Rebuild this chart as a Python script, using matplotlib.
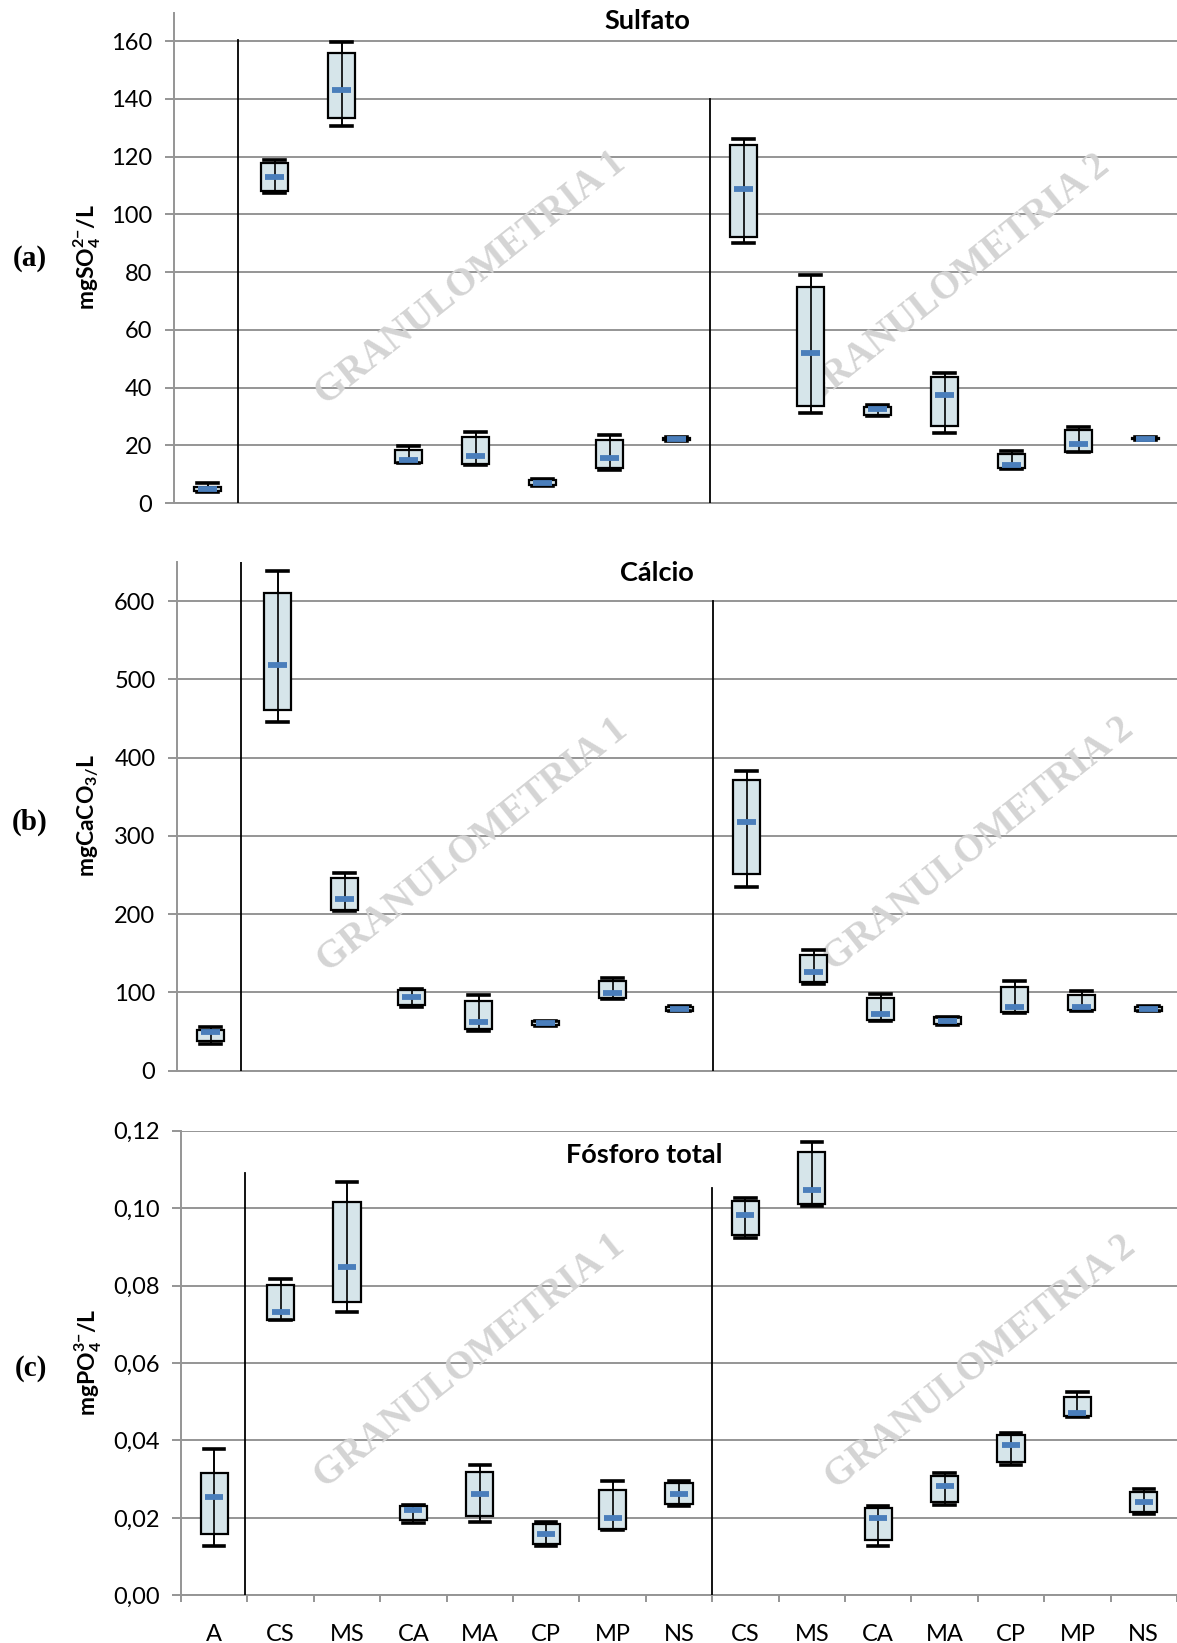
import matplotlib
matplotlib.use('Agg')
import matplotlib.pyplot as plt

plt.rcParams['font.family'] = ['Lato', 'DejaVu Sans']
plt.rcParams['mathtext.fontset'] = 'custom'
plt.rcParams['mathtext.rm'] = 'Lato'
plt.rcParams['mathtext.bf'] = 'Lato:bold'

categories = ['A', 'CS', 'MS', 'CA', 'MA', 'CP', 'MP', 'NS',
              'CS', 'MS', 'CA', 'MA', 'CP', 'MP', 'NS']

# sulfato (mgSO4/L): min, q1, median, q3, max
sul_min = [3.8, 107.2, 130.4, 13.8, 13.2, 5.9, 11.4, 21.5, 89.9, 31.1, 30.2, 24.2, 11.8, 17.5, 21.9]
sul_q1 = [4.0, 107.9, 133.3, 14.0, 13.4, 6.2, 12.0, 21.8, 92.0, 33.5, 30.4, 26.6, 12.2, 17.7, 22.0]
sul_med = [4.8, 113.0, 143.0, 14.9, 16.3, 7.0, 15.6, 22.2, 108.7, 52.0, 32.4, 37.3, 13.3, 20.3, 22.3]
sul_q3 = [5.4, 117.7, 155.7, 18.5, 22.7, 7.9, 21.9, 22.6, 124.1, 74.9, 33.4, 43.6, 16.9, 25.2, 22.6]
sul_max = [6.8, 118.8, 159.5, 19.6, 24.5, 8.4, 23.5, 22.9, 125.9, 78.8, 33.8, 44.9, 17.9, 26.2, 22.8]

# calcio (mgCaCO3/L)
cal_min = [34.5, 445.4, 204.0, 81.5, 50.8, 57.3, 91.5, 76.0, 234.2, 110.3, 63.5, 58.7, 73.0, 76.5, 76.3]
cal_q1 = [38.0, 460.9, 204.9, 83.7, 52.5, 57.7, 92.2, 76.5, 251.2, 113.3, 64.8, 59.6, 74.6, 77.5, 76.6]
cal_med = [48.6, 517.7, 219.0, 93.5, 62.3, 60.2, 98.6, 78.9, 318.0, 126.4, 72.4, 63.9, 81.8, 81.8, 79.2]
cal_q3 = [52.1, 610.6, 246.7, 102.8, 89.2, 63.2, 114.0, 81.5, 370.9, 147.8, 92.5, 68.2, 106.5, 96.7, 81.8]
cal_max = [55.1, 638.4, 252.1, 104.1, 96.4, 63.8, 118.2, 82.8, 382.4, 154.1, 98.0, 68.9, 114.2, 101.4, 82.7]

# fosforo total (mgPO4/L)
fos_min = [0.0127, 0.0711, 0.0733, 0.0188, 0.0189, 0.0127, 0.0168, 0.0231,
           0.0922, 0.1005, 0.0127, 0.0232, 0.0336, 0.0461, 0.0209]
fos_q1 = [0.0158, 0.0712, 0.0758, 0.0194, 0.0205, 0.0132, 0.0172, 0.0236,
          0.0931, 0.1010, 0.0143, 0.0242, 0.0345, 0.0462, 0.0215]
fos_med = [0.0253, 0.0733, 0.0848, 0.0220, 0.0262, 0.0158, 0.0200, 0.0262,
           0.0983, 0.1046, 0.0200, 0.0283, 0.0388, 0.0472, 0.0242]
fos_q3 = [0.0316, 0.0801, 0.1015, 0.0231, 0.0319, 0.0184, 0.0273, 0.0289,
          0.1019, 0.1146, 0.0226, 0.0309, 0.0414, 0.0513, 0.0268]
fos_max = [0.0378, 0.0816, 0.1067, 0.0234, 0.0336, 0.0189, 0.0294, 0.0294,
           0.1025, 0.1172, 0.0231, 0.0315, 0.0418, 0.0524, 0.0274]

sul_ticks = [0, 20, 40, 60, 80, 100, 120, 140, 160]
cal_ticks = [0, 100, 200, 300, 400, 500, 600]
fos_ticks = [0, 0.02, 0.04, 0.06, 0.08, 0.10, 0.12]
fos_ticklabels = ['0,00', '0,02', '0,04', '0,06', '0,08', '0,10', '0,12']

W, H = 1177, 1643
fig = plt.figure(figsize=(W / 100, H / 100), dpi=100)

GRID = '#959595'
BOXFACE = '#d6e5ea'
MEDCOL = '#4a7ebb'
WMARK = '#d4d4d4'


def axes_px(left, top, bottom):
    return fig.add_axes([left / W, 1 - bottom / H, (W - left) / W, (bottom - top) / H])


def draw_panel(ax, left, lo, q1, med, q3, hi, ytop, ticks, ticklabels, seps):
    n = len(med)
    xs = list(range(n))
    stats = [dict(med=med[i], q1=q1[i], q3=q3[i], whislo=lo[i], whishi=hi[i]) for i in xs]
    ax.bxp(stats, positions=xs, widths=0.41, capwidths=0.31, patch_artist=True,
           showfliers=False,
           boxprops=dict(facecolor=BOXFACE, edgecolor='black', linewidth=1.6),
           whiskerprops=dict(color='black', linewidth=1.2),
           capprops=dict(color='black', linewidth=2.6),
           medianprops=dict(linewidth=0))
    ax.vlines(xs, lo, hi, color='black', linewidth=1.2, zorder=3)
    ax.hlines(med, [x - 0.135 for x in xs], [x + 0.135 for x in xs],
              color=MEDCOL, linewidth=4.2, zorder=4)
    for xsep, ysep in seps:
        ax.plot([xsep, xsep], [0, ysep], color='black', linewidth=1.3, zorder=3)
    right = (W - left) / 67.0 - 0.5
    ax.set_xlim(-0.5, right)
    ax.set_ylim(0, ytop)
    ax.set_yticks(ticks)
    ax.set_yticklabels(ticklabels)
    ax.set_axisbelow(True)
    ax.grid(axis='y', color=GRID, linewidth=1.4)
    ax.grid(axis='x', visible=False)
    for s in ['top', 'right']:
        ax.spines[s].set_visible(False)
    ax.spines['left'].set_color(GRID)
    ax.spines['left'].set_linewidth(1.4)
    ax.spines['bottom'].set_color(GRID)
    ax.spines['bottom'].set_linewidth(1.4)
    ax.tick_params(axis='y', length=6.5, width=1.4, color=GRID, labelsize=17, pad=9)


# (a) Sulfato
ax1 = axes_px(174, 13, 503)
draw_panel(ax1, 174, sul_min, sul_q1, sul_med, sul_q3, sul_max, 169.7,
           sul_ticks, [str(t) for t in sul_ticks], [(0.46, 160.5), (7.5, 140)])
ax1.set_xticks([])

# (b) Calcio
ax2 = axes_px(177, 562, 1070.5)
draw_panel(ax2, 177, cal_min, cal_q1, cal_med, cal_q3, cal_max, 650,
           cal_ticks, [str(t) for t in cal_ticks], [(0.46, 650), (7.5, 600)])
ax2.set_xticks([])

# (c) Fosforo total
ax3 = axes_px(181, 1130.7, 1595.3)
draw_panel(ax3, 181, fos_min, fos_q1, fos_med, fos_q3, fos_max, 0.12,
           fos_ticks, fos_ticklabels, [(0.46, 0.1092), (7.5, 0.1051)])
ax3.set_xticks(range(len(categories)))
ax3.set_xticklabels(categories)
ax3.set_xticks([i - 0.5 for i in range(len(categories) + 1)], minor=True)
ax3.tick_params(axis='x', which='major', length=0, labelsize=17, pad=21)
ax3.tick_params(axis='x', which='minor', length=5, width=1.4, color=GRID)


def ftext(x, y, s, **kw):
    fig.text(x / W, 1 - y / H, s, ha='center', va='center', **kw)


# titles
ftext(647, 21, 'Sulfato', fontsize=19.5, fontweight='bold')
ftext(657, 573, 'Cálcio', fontsize=19.5, fontweight='bold')
ftext(644, 1155, 'Fósforo total', fontsize=19.5, fontweight='bold')

# y labels
ftext(87, 257, r'mgSO$_\mathbf{4}^{\mathbf{2}{\mathbf{-}}}$/L', fontsize=16.5, fontweight='bold', rotation=90)
ftext(89, 816, r'mgCaCO$_\mathbf{3/}$L', fontsize=16.5, fontweight='bold', rotation=90)
ftext(88, 1362, r'mgPO$_\mathbf{4}^{\mathbf{3}{\mathbf{-}}}$/L', fontsize=16.5, fontweight='bold', rotation=90)

# panel letters
for lab, (x, y) in zip(['(a)', '(b)', '(c)'], [(30, 259), (30, 822), (31, 1368)]):
    ftext(x, y, lab, fontsize=21, fontweight='bold', family='Liberation Serif')

# watermarks
wm = [(ax1, 471, 279, 'GRANULOMETRIA 1'), (ax1, 955, 282, 'GRANULOMETRIA 2'),
      (ax2, 473, 846, 'GRANULOMETRIA 1'), (ax2, 979, 845, 'GRANULOMETRIA 2'),
      (ax3, 470, 1362, 'GRANULOMETRIA 1'), (ax3, 981, 1363, 'GRANULOMETRIA 2')]
for ax, x, y, s in wm:
    ax.text(x / W, 1 - y / H, s, transform=fig.transFigure, ha='center', va='center',
            rotation=38.5, rotation_mode='anchor', fontsize=28, fontweight='bold',
            family='Liberation Serif', color=WMARK, zorder=1.5)

fig.savefig('out.png', dpi=100)
